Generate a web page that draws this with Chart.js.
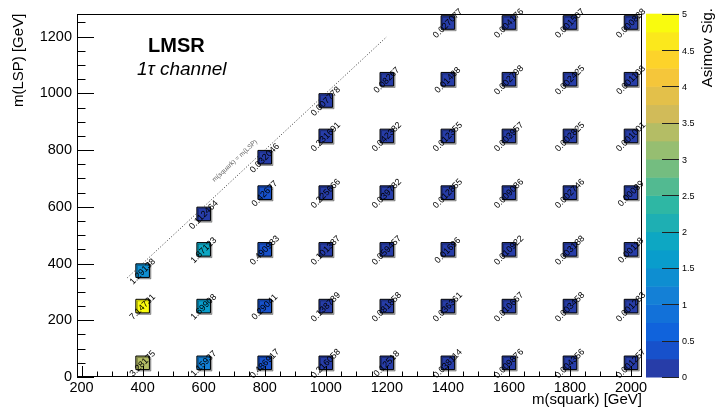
<!DOCTYPE html>
<html>
<head>
<meta charset="utf-8">
<script src="https://cdn.jsdelivr.net/npm/chart.js@4.4.1/dist/chart.umd.min.js"></script>
<style>
  html, body { margin: 0; padding: 0; background: #ffffff; }
  #wrap { width: 715px; height: 417px; }
</style>
</head>
<body>
<div id="wrap"><canvas id="c" width="715" height="417"></canvas></div>
<script>
// Signal grid points: squark mass, LSP mass and the Asimov significance at each point
const squarkMass = [
  400, 400, 400,
  600, 600, 600, 600,
  800, 800, 800, 800, 800,
  1000, 1000, 1000, 1000, 1000, 1000,
  1200, 1200, 1200, 1200, 1200, 1200,
  1400, 1400, 1400, 1400, 1400, 1400, 1400,
  1600, 1600, 1600, 1600, 1600, 1600, 1600,
  1800, 1800, 1800, 1800, 1800, 1800, 1800,
  2000, 2000, 2000, 2000, 2000, 2000, 2000
];
const lspMass = [
  50, 250, 375,
  50, 250, 450, 575,
  50, 250, 450, 650, 775,
  50, 250, 450, 650, 850, 975,
  50, 250, 450, 650, 850, 1050,
  50, 250, 450, 650, 850, 1050, 1250,
  50, 250, 450, 650, 850, 1050, 1250,
  50, 250, 450, 650, 850, 1050, 1250,
  50, 250, 450, 650, 850, 1050, 1250
];
const asimovSig = [
  3.28175, 7.14731, 1.29138,
  1.15937, 1.69908, 1.87123, 0.112464,
  0.486917, 0.29041, 0.490983, 0.42677, 0.032046,
  0.216058, 0.138789, 0.101387, 0.225666, 0.231691, 0.007778,
  0.12518, 0.081858, 0.059457, 0.039782, 0.042382, 0.08267,
  0.038114, 0.036361, 0.01696, 0.012855, 0.012355, 0.01488, 0.027077,
  0.009876, 0.010667, 0.010922, 0.009086, 0.003957, 0.002798, 0.004176,
  0.004356, 0.003458, 0.003188, 0.002746, 0.002825, 0.002425, 0.001507,
  0.001257, 0.001283, 0.00118, 0.00089, 0.001001, 0.001108, 0.000828
];

// Kinematic boundary m(squark) = m(LSP)
const diagSquark = [350, 1200];
const diagLSP = [350, 1200];

// Axis tick labels
const xTickValues = [200, 400, 600, 800, 1000, 1200, 1400, 1600, 1800, 2000];
const yTickValues = [0, 200, 400, 600, 800, 1000, 1200];
const zTickValues = [0, 0.5, 1, 1.5, 2, 2.5, 3, 3.5, 4, 4.5, 5];

// Colour scale: 20 levels between 0 and 5 on the "bird" palette
const Z_MAX = 5;
const N_LEVELS = 20;
const birdStops = [0.0, 0.125, 0.25, 0.375, 0.5, 0.625, 0.75, 0.875, 1.0];
const birdR = [0.2082, 0.0592, 0.0780, 0.0232, 0.1802, 0.5301, 0.8186, 0.9956, 0.9764];
const birdG = [0.1664, 0.3599, 0.5041, 0.6419, 0.7178, 0.7492, 0.7328, 0.7862, 0.9832];
const birdB = [0.5293, 0.8684, 0.8385, 0.7914, 0.6425, 0.4662, 0.3499, 0.1968, 0.0539];

function bird(t) {
  t = Math.max(0, Math.min(1, t));
  let k = 0;
  while (k < birdStops.length - 2 && t > birdStops[k + 1]) k++;
  const f = (t - birdStops[k]) / (birdStops[k + 1] - birdStops[k]);
  const c = (a) => Math.round(255 * (a[k] + f * (a[k + 1] - a[k])));
  return 'rgb(' + c(birdR) + ',' + c(birdG) + ',' + c(birdB) + ')';
}
function levelColor(level) {
  const idx = Math.floor((level + 0.99) * 255 / N_LEVELS);
  return bird(idx / 254);
}
function sigColor(v) {
  let level = Math.floor(v / (Z_MAX / N_LEVELS));
  level = Math.max(0, Math.min(N_LEVELS - 1, level));
  return levelColor(level);
}

const FONT = '"Liberation Sans", Arial, Helvetica, sans-serif';

// Soft drop shadow under the square markers
const markerShadow = {
  id: 'markerShadow',
  beforeDatasetDraw(chart, args) {
    if (args.index !== 0) return;
    const ctx = chart.ctx;
    ctx.save();
    ctx.shadowColor = 'rgba(0,0,0,0.3)';
    ctx.shadowOffsetX = 1.5;
    ctx.shadowOffsetY = 1.5;
    ctx.shadowBlur = 0;
  },
  afterDatasetDraw(chart, args) {
    if (args.index !== 0) return;
    chart.ctx.restore();
  }
};

// Value labels at 45 degrees, boundary label, frame, inward ticks, colour bar and texts
const decorations = {
  id: 'decorations',
  afterDatasetsDraw(chart) {
    const ctx = chart.ctx;
    const xs = chart.scales.x, ys = chart.scales.y;
    const area = chart.chartArea;

    // value labels on the markers
    const meta = chart.getDatasetMeta(0);
    ctx.save();
    ctx.fillStyle = '#000';
    ctx.font = '9px ' + FONT;
    ctx.textAlign = 'center';
    ctx.textBaseline = 'middle';
    meta.data.forEach((pt, i) => {
      ctx.save();
      ctx.translate(pt.x, pt.y + 1);
      ctx.rotate(-Math.PI / 4);
      ctx.fillText(String(asimovSig[i]), 0, 0);
      ctx.restore();
    });
    ctx.restore();

    // label along the diagonal boundary
    const p0x = xs.getPixelForValue(diagSquark[0]), p0y = ys.getPixelForValue(diagLSP[0]);
    const p1x = xs.getPixelForValue(diagSquark[1]), p1y = ys.getPixelForValue(diagLSP[1]);
    const ang = Math.atan2(p1y - p0y, p1x - p0x);
    const ax = xs.getPixelForValue(730), ay = ys.getPixelForValue(730);
    ctx.save();
    ctx.translate(ax, ay);
    ctx.rotate(ang);
    ctx.fillStyle = '#666';
    ctx.font = '6.5px ' + FONT;
    ctx.textAlign = 'center';
    ctx.textBaseline = 'middle';
    ctx.fillText('m(squark) = m(LSP)', 0, -12.5);
    ctx.restore();

    // frame
    ctx.save();
    ctx.strokeStyle = '#000';
    ctx.lineWidth = 1;
    ctx.strokeRect(Math.round(area.left) + 0.5, Math.round(area.top) + 0.5,
                   Math.round(area.right - area.left) - 1, Math.round(area.bottom - area.top) - 1);

    // inward ticks, major every 200 GeV, minor every 50 GeV
    ctx.beginPath();
    for (let v = 200; v <= 2000; v += 50) {
      const len = (v % 200 === 0) ? 11 : 5.5;
      const x = Math.round(xs.getPixelForValue(v)) + 0.5;
      ctx.moveTo(x, area.bottom);
      ctx.lineTo(x, area.bottom - len);
    }
    for (let v = 0; v <= 1250; v += 50) {
      const len = (v % 200 === 0) ? 17 : 8.5;
      const y = Math.round(ys.getPixelForValue(v)) + 0.5;
      ctx.moveTo(area.left, y);
      ctx.lineTo(area.left + len, y);
    }
    ctx.stroke();
    ctx.restore();

    // colour bar
    const barL = 646, barR = 679;
    const barTop = area.top, barBot = area.bottom;
    const zPix = (z) => barBot - (z / Z_MAX) * (barBot - barTop);
    ctx.save();
    for (let l = 0; l < N_LEVELS; l++) {
      const z0 = l * Z_MAX / N_LEVELS, z1 = (l + 1) * Z_MAX / N_LEVELS;
      const y0 = zPix(z0), y1 = zPix(z1);
      ctx.fillStyle = levelColor(l);
      ctx.fillRect(barL, y1, barR - barL, y0 - y1 + 0.5);
    }
    ctx.strokeStyle = '#222';
    ctx.lineWidth = 1;
    ctx.beginPath();
    zTickValues.forEach((z) => {
      const y = Math.round(zPix(z)) + 0.5;
      ctx.moveTo(barR, y);
      ctx.lineTo(barR - 17, y);
    });
    ctx.stroke();
    ctx.fillStyle = '#000';
    ctx.font = '9px ' + FONT;
    ctx.textAlign = 'left';
    ctx.textBaseline = 'middle';
    zTickValues.forEach((z) => {
      ctx.fillText(String(z), barR + 3, zPix(z) + 1);
    });
    // colour bar title
    ctx.translate(707.5, 8);
    ctx.rotate(-Math.PI / 2);
    ctx.font = '15px ' + FONT;
    ctx.textAlign = 'right';
    ctx.textBaseline = 'middle';
    ctx.fillText('Asimov Sig.', 0, 0);
    ctx.restore();

    // analysis labels
    ctx.save();
    ctx.fillStyle = '#000';
    ctx.textAlign = 'left';
    ctx.textBaseline = 'alphabetic';
    ctx.font = 'bold 20px ' + FONT;
    ctx.fillText('LMSR', 148, 52);
    ctx.font = 'italic 19px ' + FONT;
    ctx.fillText('1\u03C4 channel', 137, 75);
    ctx.restore();
  }
};

const chart = new Chart(document.getElementById('c'), {
  data: {
    datasets: [
      {
        type: 'scatter',
        label: 'Asimov significance',
        data: squarkMass.map((m, i) => ({ x: m, y: lspMass[i] })),
        pointStyle: 'rect',
        pointRadius: 9.6,
        pointHoverRadius: 9.6,
        backgroundColor: asimovSig.map(sigColor),
        borderColor: '#000',
        borderWidth: 1
      },
      {
        type: 'line',
        label: 'm(squark) = m(LSP)',
        data: diagSquark.map((m, i) => ({ x: m, y: diagLSP[i] })),
        borderColor: '#333',
        borderWidth: 1,
        borderDash: [1, 2],
        pointRadius: 0,
        fill: false
      }
    ]
  },
  options: {
    responsive: false,
    animation: false,
    devicePixelRatio: 1,
    events: [],
    layout: { padding: { left: 0, right: 73, top: 7, bottom: 0 } },
    plugins: { legend: { display: false }, tooltip: { enabled: false } },
    scales: {
      x: {
        type: 'linear',
        min: 185,
        max: 2036,
        afterBuildTicks: (s) => { s.ticks = xTickValues.map((v) => ({ value: v })); },
        afterFit: (s) => { s.height = 40; },
        grid: { display: false, drawTicks: false },
        border: { display: false },
        ticks: {
          color: '#000',
          font: { family: FONT, size: 14.5 },
          padding: 2,
          maxRotation: 0,
          autoSkip: false,
          callback: (v) => String(v)
        },
        title: {
          display: true,
          text: 'm(squark) [GeV]',
          align: 'end',
          color: '#000',
          font: { family: FONT, size: 15 },
          padding: { top: 0, bottom: 8 }
        }
      },
      y: {
        type: 'linear',
        min: 0,
        max: 1281,
        afterBuildTicks: (s) => { s.ticks = yTickValues.map((v) => ({ value: v })); },
        afterFit: (s) => { s.width = 77; },
        grid: { display: false, drawTicks: false },
        border: { display: false },
        ticks: {
          color: '#000',
          font: { family: FONT, size: 14.5 },
          padding: 5,
          autoSkip: false,
          callback: (v) => String(v)
        },
        title: {
          display: true,
          text: 'm(LSP) [GeV]',
          align: 'end',
          color: '#000',
          font: { family: FONT, size: 15 },
          padding: { top: 10, bottom: 0 }
        }
      }
    }
  },
  plugins: [markerShadow, decorations]
});
</script>
</body>
</html>
